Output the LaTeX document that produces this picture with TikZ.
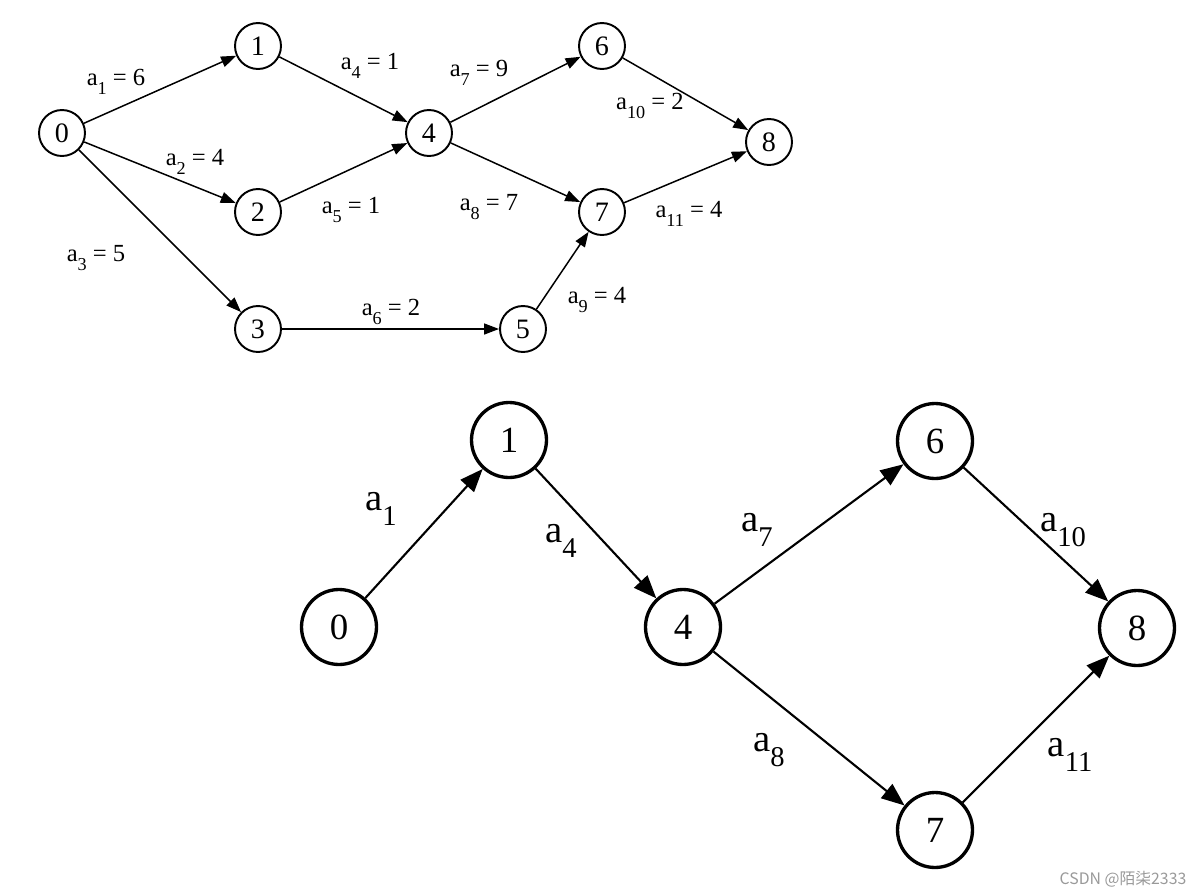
\documentclass[tikz,border=0pt]{standalone}
\usepackage{fontspec}
\setmainfont{Liberation Serif}
\newfontfamily\cjk{Noto Sans CJK SC}
\usepackage{tikz}
\usetikzlibrary{arrows.meta}
\newcommand{\act}[1]{a\raisebox{-0.38em}{\scalebox{0.74}{#1}}}

\tikzset{
    tnode/.style={circle, draw, line width=1.1pt, minimum size=0.92cm,
        inner sep=0pt, font=\fontsize{16}{18}\selectfont},
    bnode/.style={circle, draw, line width=1.9pt, minimum size=1.5cm,
        inner sep=0pt, font=\fontsize{21}{23}\selectfont},
    tarc/.style={line width=0.85pt, -{Triangle[length=0.3cm, width=0.22cm]}},
    barc/.style={line width=1.2pt, -{Triangle[length=0.46cm, width=0.36cm]}},
    tlab/.style={inner sep=0pt, font=\fontsize{14}{16}\selectfont},
    blab/.style={inner sep=0pt, font=\fontsize{22}{24}\selectfont}
}

\begin{document}
\begin{tikzpicture}[x=0.02cm, y=-0.02cm]

                \useasboundingbox (0, 0) rectangle (1204, 896);

                % Top network, with weights
                \begin{scope}
                    \node[tnode] (t0) at (62, 133) {0};
                    \node[tnode] (t1) at (258, 46) {1};
                    \node[tnode] (t2) at (258, 212) {2};
                    \node[tnode] (t3) at (258, 329) {3};
                    \node[tnode] (t4) at (429, 133) {4};
                    \node[tnode] (t5) at (523, 329) {5};
                    \node[tnode] (t6) at (602, 46) {6};
                    \node[tnode] (t7) at (602, 212) {7};
                    \node[tnode] (t8) at (769, 142) {8};

                    \node[tlab] (l1) at (116, 82) {\act{1} = 6};
                    \node[tlab] (l2) at (195, 162) {\act{2} = 4};
                    \node[tlab] (l3) at (96, 258) {\act{3} = 5};
                    \node[tlab] (l4) at (370, 66) {\act{4} = 1};
                    \node[tlab] (l5) at (351, 210) {\act{5} = 1};
                    \node[tlab] (l6) at (391, 312) {\act{6} = 2};
                    \node[tlab] (l7) at (479, 73) {\act{7} = 9};
                    \node[tlab] (l8) at (489, 207) {\act{8} = 7};
                    \node[tlab] (l9) at (597, 300) {\act{9} = 4};
                    \node[tlab] (l10) at (650, 106) {\act{10} = 2};
                    \node[tlab] (l11) at (689, 214) {\act{11} = 4};
                \end{scope}

                \begin{scope}[tarc]
                    \draw (t0) -- (t1);
                    \draw (t0) -- (t2);
                    \draw (t0) -- (t3);
                    \draw (t1) -- (t4);
                    \draw (t2) -- (t4);
                    \draw (t3) -- (t5);
                    \draw (t4) -- (t6);
                    \draw (t4) -- (t7);
                    \draw (t5) -- (t7);
                    \draw (t6) -- (t8);
                    \draw (t7) -- (t8);
                \end{scope}

                % Critical path
                \begin{scope}
                    \node[bnode] (b0) at (339, 627) {0};
                    \node[bnode] (b1) at (509, 440) {1};
                    \node[bnode] (b4) at (683, 627) {4};
                    \node[bnode] (b6) at (935, 441) {6};
                    \node[bnode] (b7) at (935, 830) {7};
                    \node[bnode] (b8) at (1137, 628) {8};

                    \node[blab] (m1) at (381, 509) {\act{1}};
                    \node[blab] (m4) at (561, 541) {\act{4}};
                    \node[blab] (m7) at (757, 530) {\act{7}};
                    \node[blab] (m10) at (1063, 530) {\act{10}};
                    \node[blab] (m8) at (769, 750) {\act{8}};
                    \node[blab] (m11) at (1070, 755) {\act{11}};
                \end{scope}

                \begin{scope}[barc]
                    \draw (b0) -- (b1);
                    \draw (b1) -- (b4);
                    \draw (b4) -- (b6);
                    \draw (b4) -- (b7);
                    \draw (b6) -- (b8);
                    \draw (b7) -- (b8);
                \end{scope}

                \node[text=gray!80, font=\cjk\fontsize{9}{10}\selectfont]
                    (wm) at (1123, 879) {CSDN @陌柒2333};

\end{tikzpicture}
\end{document}
